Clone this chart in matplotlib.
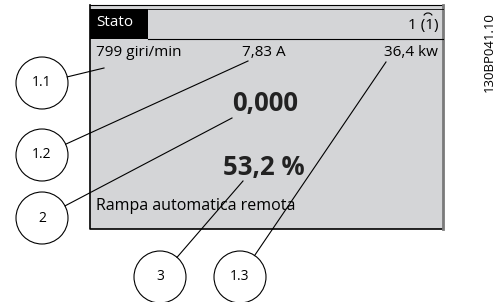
import matplotlib
matplotlib.use("Agg")
import matplotlib.pyplot as plt
import matplotlib.patches as mpatches

plt.rcParams['font.family'] = ['Open Sans', 'DejaVu Sans']

# display texts
header_left = "Stato"
header_right = "1 (1)"
row_texts = ["799 giri/min", "7,83 A", "36,4 kw"]
big_texts = ["0,000", "53,2 %"]
bottom_text = "Rampa automatica remota"
code = "130BP041.10"

# callouts: label, circle centre, end point of the leader line
callout_labels = ["1.1", "1.2", "2", "3", "1.3"]
callout_centres = [(42, 83), (42, 155), (42, 218), (160, 277), (240, 277)]
callout_targets = [(104, 68), (248, 61), (232, 118), (243, 181), (386, 62)]
radius = 26

fig = plt.figure(figsize=(5.04, 3.02), dpi=100)
ax = fig.add_axes([0, 0, 1, 1])
ax.set_xlim(0, 504)
ax.set_ylim(302, 0)
ax.axis('off')

# display panel
ax.add_patch(mpatches.Rectangle((90, 5), 353, 224, facecolor='#d4d5d7', edgecolor='none'))
ax.plot([90, 90, 443], [5, 229, 229], color='black', lw=1.2)
ax.plot([90, 443], [5, 5], color='black', lw=0.8)
ax.plot([443, 443], [5, 229], color='#7a7a7a', lw=2)
ax.add_patch(mpatches.Rectangle((90, 9), 58, 30, facecolor='black', edgecolor='none'))
ax.plot([148, 443], [9, 9], color='black', lw=0.6)
ax.plot([148, 443], [39, 39], color='black', lw=0.8)

ax.text(96, 22, header_left, color='white', fontsize=11, va='center', ha='left')
ax.text(438, 26, header_right, color='black', fontsize=11, va='center', ha='right')
ax.add_patch(mpatches.Arc((428, 17), 9, 8, theta1=200, theta2=340, color='black', lw=0.8))

ax.text(96, 53, row_texts[0], fontsize=11, va='center', ha='left')
ax.text(242, 53, row_texts[1], fontsize=11, va='center', ha='left')
ax.text(438, 53, row_texts[2], fontsize=11, va='center', ha='right')

ax.text(265, 103, big_texts[0], fontsize=18.5, fontweight='bold', va='center', ha='center', color='#222222')
ax.text(264, 167, big_texts[1], fontsize=18.5, fontweight='bold', va='center', ha='center', color='#222222')
ax.text(96, 206, bottom_text, fontsize=11.5, va='center', ha='left')

ax.text(489, 52, code, fontsize=9.5, rotation=90, va='center', ha='center')

for lab, (cx, cy), (tx, ty) in zip(callout_labels, callout_centres, callout_targets):
    ax.add_patch(mpatches.Circle((cx, cy), radius, facecolor='white', edgecolor='black', lw=0.8))
    ax.text(cx, cy, lab, fontsize=10, va='center', ha='center')
    dx, dy = tx - cx, ty - cy
    d = (dx ** 2 + dy ** 2) ** 0.5
    ax.plot([cx + dx / d * radius, tx], [cy + dy / d * radius, ty], color='black', lw=0.8)

fig.savefig('out.png', dpi=100)
